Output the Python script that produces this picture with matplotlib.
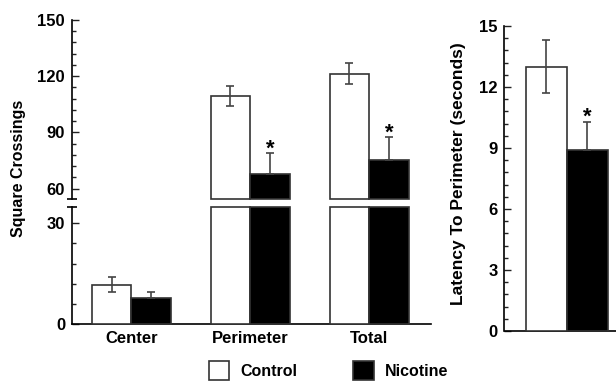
import matplotlib
matplotlib.use("Agg")
import matplotlib.pyplot as plt
from matplotlib.patches import Rectangle
from matplotlib.ticker import MultipleLocator
import numpy as np

plt.rcParams['font.family'] = ['Liberation Sans', 'DejaVu Sans']
plt.rcParams['font.weight'] = 'bold'

# ---- data ----
categories = ['Center', 'Perimeter', 'Total']
control = [11.7, 109.6, 121.4]
control_sem = [2.3, 5.4, 5.7]
nicotine = [7.6, 67.8, 75.5]
nicotine_sem = [1.9, 11.2, 11.9]
significant = [False, True, True]

latency_groups = ['Control', 'Nicotine']
latency = [13.0, 8.9]
latency_sem = [1.3, 1.4]
latency_sig = [False, True]

legend_labels = ['Control', 'Nicotine']

upper_range = (54.5, 150)
lower_range = (0, 35)

W, H = 616, 381
fig = plt.figure(figsize=(W / 100, H / 100), dpi=100)

def fx(px):
    return px / W

def fy(py):
    return 1 - py / H

ax_up = fig.add_axes([fx(72), fy(199), fx(431) - fx(72), fy(20) - fy(199)])
ax_lo = fig.add_axes([fx(72), fy(324), fx(431) - fx(72), fy(206.5) - fy(324)])
ax_r = fig.add_axes([fx(504.5), fy(331), 1 - fx(504.5), fy(26) - fy(331)])

edge = '#333333'
lw = 1.2
bw = 1 / 3
x = np.arange(len(categories))
xc = x - bw / 2
xn = x + bw / 2
ctrl = np.array(control)
nic = np.array(nicotine)

ebkw = dict(fmt='none', ecolor='#444444', elinewidth=1.2, capsize=3.2, capthick=1.2, zorder=4)
tick_fs = 12

# lower axis bars
ax_lo.bar(xc, np.minimum(ctrl, lower_range[1]), bw, color='white', edgecolor=edge, linewidth=lw, clip_on=False, zorder=3)
ax_lo.bar(xn, np.minimum(nic, lower_range[1]), bw, color='black', edgecolor=edge, linewidth=lw, clip_on=False, zorder=3)
# upper axis bars
mc = ctrl > upper_range[0]
mn = nic > upper_range[0]
ax_up.bar(xc[mc], ctrl[mc] - upper_range[0], bw, bottom=upper_range[0], color='white', edgecolor=edge, linewidth=lw, clip_on=False, zorder=3)
ax_up.bar(xn[mn], nic[mn] - upper_range[0], bw, bottom=upper_range[0], color='black', edgecolor=edge, linewidth=lw, clip_on=False, zorder=3)

for i in range(len(categories)):
    axc = ax_up if control[i] > upper_range[0] else ax_lo
    axc.errorbar([xc[i]], [control[i]], yerr=[[control_sem[i]], [control_sem[i]]], **ebkw)
    axn = ax_up if nicotine[i] > upper_range[0] else ax_lo
    axn.errorbar([xn[i]], [nicotine[i]], yerr=[[0], [nicotine_sem[i]]], **ebkw)
    if significant[i]:
        axn.annotate('*', xy=(xn[i], nicotine[i] + nicotine_sem[i]), xytext=(0, -1),
                     textcoords='offset points', ha='center', va='baseline',
                     fontsize=16, fontweight='bold')

for ax in (ax_up, ax_lo):
    ax.set_xlim(-0.5, 2.52)
    for s in ('top', 'right'):
        ax.spines[s].set_visible(False)
    ax.spines['left'].set_linewidth(lw)
    ax.spines['bottom'].set_linewidth(lw)
    ax.tick_params(axis='y', which='both', direction='in', colors='#222222', labelsize=tick_fs, pad=5)
    ax.tick_params(axis='y', which='major', length=5, width=1)
    ax.tick_params(axis='y', which='minor', length=3, width=1)
    ax.patch.set_visible(False)

ax_up.spines['bottom'].set_visible(False)
ax_up.set_ylim(*upper_range)
ax_up.yaxis.set_major_locator(MultipleLocator(30))
ax_up.yaxis.set_minor_locator(MultipleLocator(6))
ax_up.set_xticks([])

ax_lo.set_ylim(*lower_range)
ax_lo.yaxis.set_major_locator(MultipleLocator(30))
ax_lo.yaxis.set_minor_locator(MultipleLocator(6))
ax_lo.set_xticks(x)
ax_lo.set_xticklabels(categories, fontsize=12, fontweight='bold')
ax_lo.tick_params(axis='x', length=0, pad=5)

for ax in (ax_up, ax_lo):
    for lab in ax.get_yticklabels():
        lab.set_color('black')
        lab.set_fontweight('bold')

# break caps
ax_up.plot([0], [0], transform=ax_up.transAxes, marker='_', ms=7, mew=1.2, color='k', clip_on=False)
ax_lo.plot([0], [1], transform=ax_lo.transAxes, marker='_', ms=7, mew=1.2, color='k', clip_on=False)

fig.text(fx(19), fy(168), 'Square Crossings', rotation=90, ha='center', va='center',
         fontsize=11.5, fontweight='bold')

# right panel
xr = np.arange(len(latency_groups))
ax_r.bar(xr[0], latency[0], 1.0, color='white', edgecolor=edge, linewidth=lw, zorder=3)
ax_r.bar(xr[1], latency[1], 1.0, color='black', edgecolor=edge, linewidth=lw, zorder=3)
ax_r.errorbar([xr[0]], [latency[0]], yerr=[[latency_sem[0]], [latency_sem[0]]], **ebkw)
ax_r.errorbar([xr[1]], [latency[1]], yerr=[[0], [latency_sem[1]]], **ebkw)
for i in range(2):
    if latency_sig[i]:
        ax_r.annotate('*', xy=(xr[i], latency[i] + latency_sem[i]), xytext=(0, -1),
                      textcoords='offset points', ha='center', va='baseline',
                      fontsize=16, fontweight='bold')
ax_r.set_xlim(-1.02, 1.70)
ax_r.set_ylim(0, 15)
ax_r.yaxis.set_major_locator(MultipleLocator(3))
ax_r.yaxis.set_minor_locator(MultipleLocator(0.6))
ax_r.set_xticks([])
for s in ('top', 'right'):
    ax_r.spines[s].set_visible(False)
ax_r.spines['left'].set_linewidth(lw)
ax_r.spines['bottom'].set_linewidth(lw)
ax_r.tick_params(axis='y', which='both', direction='in', colors='#222222', labelsize=tick_fs, pad=5)
ax_r.tick_params(axis='y', which='major', length=5, width=1)
ax_r.tick_params(axis='y', which='minor', length=3, width=1)
for lab in ax_r.get_yticklabels():
    lab.set_color('black')
    lab.set_fontweight('bold')
fig.text(fx(458), fy(174), 'Latency To Perimeter (seconds)', rotation=90, ha='center', va='center',
         fontsize=12.5, fontweight='bold')

# legend
leg_x = [208.5, 352.5]
leg_fill = ['white', 'black']
for lx, fc, lab in zip(leg_x, leg_fill, legend_labels):
    fig.add_artist(Rectangle((fx(lx), fy(380)), fx(21), fy(361) - fy(380), transform=fig.transFigure,
                             facecolor=fc, edgecolor=edge, linewidth=1.2))
    fig.text(fx(lx + 32), fy(371.5), lab, ha='left', va='center', fontsize=11.5, fontweight='bold')

fig.savefig('out.png', dpi=100)
